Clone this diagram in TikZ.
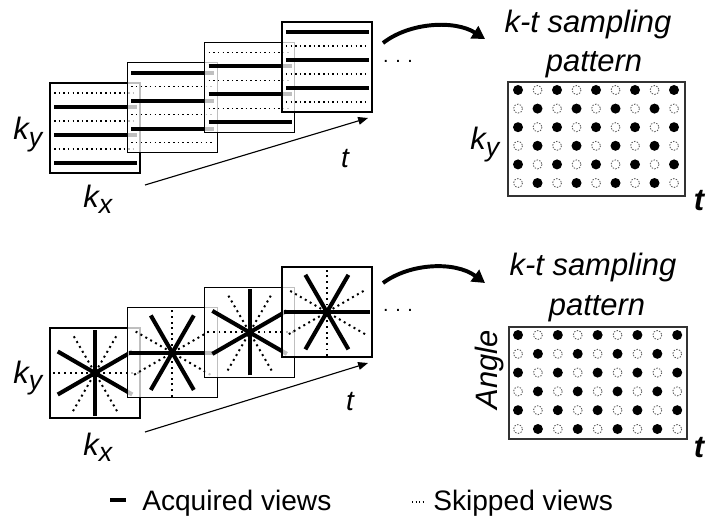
\documentclass[tikz,border=0pt]{standalone}
\usepackage{fontspec}
\setmainfont{Liberation Sans}
\usetikzlibrary{arrows.meta, calc}

\newcommand{\lowidx}[1]{\raisebox{-4.5pt}{\fontsize{19}{19}\selectfont #1}}

\tikzset{
  kframe/.style={draw=black, line width=0.9pt, fill=white, fill opacity=0.75},
  acq/.style={line width=2.9pt},
  skip/.style={line width=1.1pt, dash pattern=on 1.1pt off 2.2pt},
  skipray/.style={line width=1.4pt, dash pattern=on 1.4pt off 2.6pt},
  lbl/.style={font=\fontsize{22}{26}\selectfont\itshape, inner sep=0pt},
  leg/.style={font=\fontsize{20}{24}\selectfont, inner sep=0pt},
  hit/.style={fill=black},
  miss/.style={draw=black!65, line width=0.6pt, dash pattern=on 1pt off 1pt},
  tarrow/.style={line width=0.8pt, -{Triangle[length=7pt, width=5.5pt]}},
  bigarrow/.style={line width=2.8pt, -{Triangle[length=9pt, width=10pt]}},
}

\begin{document}
\begin{tikzpicture}[x=0.025cm, y=-0.025cm]
    \useasboundingbox (0,0) rectangle (708,525);

    % Cartesian frames
    \begin{scope}
        \foreach \i in {0,...,3} {
            \pgfmathsetmacro{\o}{14*mod(\i,2)}
            \begin{scope}[shift={({50+77.3*\i},{83-20.3*\i})}]
                \draw[kframe] (0,0) rectangle (90,90);
                \foreach \k in {0,1,2} {
                    \draw[acq] (4,{24-\o+28*\k}) -- (87,{24-\o+28*\k});
                    \draw[skip] (4,{10+\o+28*\k}) -- (87,{10+\o+28*\k});
                }
            \end{scope}
        }

        \node[lbl, anchor=base west] (ky1) at (13,140) {k\lowidx{y}};
        \node[lbl, anchor=base west] (kx1) at (83,207) {k\lowidx{x}};
        \node[lbl, font=\fontsize{20}{24}\selectfont\itshape, anchor=base] (t1) at (345,167) {t};

        \coordinate (t1s) at (145,185);
        \coordinate (t1e) at (368,118);
        \draw[tarrow] (t1s) -- (t1e);

        \node[font=\fontsize{14}{14}\selectfont, inner sep=0pt, anchor=base] (more1) at (398,63) {.\,\,.\,\,.};

        \coordinate (c1s) at (383,43);
        \coordinate (c1e) at (485,39);
        \draw[bigarrow] (c1s) .. controls (410,22) and (455,20) .. (c1e);

        \node[lbl, anchor=base] (title1) at (588,33) {k-t sampling};
        \node[lbl, anchor=base] (patt1) at (594,72) {pattern};

        \draw[line width=1pt, draw=black!80] (508,82) rectangle (685,196);
        \foreach \r in {0,...,5} {
            \foreach \c in {0,...,8} {
                \pgfmathtruncatemacro{\p}{mod(\r+\c,2)}
                \ifnum\p=0
                    \fill[hit] ({518+19.5*\c},{90+18.6*\r}) circle (5);
                \else
                    \draw[miss] ({518+19.5*\c},{90+18.6*\r}) circle (4.5);
                \fi
            }
        }
        \node[lbl, anchor=base west] (ky1r) at (470,150) {k\lowidx{y}};
        \node[lbl, font=\fontsize{22}{26}\selectfont\bfseries\itshape, anchor=base] (tt1) at (699,210) {t};
    \end{scope}

    % Radial frames
    \begin{scope}
        \foreach \i in {0,...,3} {
            \pgfmathsetmacro{\a}{30*(1-mod(\i,2))}
            \pgfmathsetmacro{\b}{30*mod(\i,2)}
            \begin{scope}[shift={({50+77.3*\i},{328-20.3*\i})}]
                \draw[kframe] (0,0) rectangle (90,90);
                \coordinate (ctr) at (45,45);
                \foreach \k in {0,1,2} {
                    \draw[skipray] ($(ctr)+({\b+60*\k}:44)$) -- ($(ctr)+({\b+60*\k+180}:44)$);
                }
                \foreach \k in {0,1,2} {
                    \draw[acq] ($(ctr)+({\a+60*\k}:43)$) -- ($(ctr)+({\a+60*\k+180}:43)$);
                }
            \end{scope}
        }

        \node[lbl, anchor=base west] (ky2) at (13,383) {k\lowidx{y}};
        \node[lbl, anchor=base west] (kx2) at (83,455) {k\lowidx{x}};
        \node[lbl, font=\fontsize{20}{24}\selectfont\itshape, anchor=base] (t2) at (350,410) {t};

        \coordinate (t2s) at (145,432);
        \coordinate (t2e) at (368,363);
        \draw[tarrow] (t2s) -- (t2e);

        \node[font=\fontsize{14}{14}\selectfont, inner sep=0pt, anchor=base] (more2) at (398,311) {.\,\,.\,\,.};

        \coordinate (c2s) at (383,283);
        \coordinate (c2e) at (485,283);
        \draw[bigarrow] (c2s) .. controls (410,263) and (455,261) .. (c2e);

        \node[lbl, anchor=base] (title2) at (593,275) {k-t sampling};
        \node[lbl, anchor=base] (patt2) at (597,315) {pattern};

        \draw[line width=1pt, draw=black!80] (509,327) rectangle (687,439);
        \foreach \r in {0,...,5} {
            \foreach \c in {0,...,8} {
                \pgfmathtruncatemacro{\p}{mod(\r+\c,2)}
                \ifnum\p=0
                    \fill[hit] ({518+19.9*\c},{335+18.8*\r}) circle (5);
                \else
                    \draw[miss] ({518+19.9*\c},{335+18.8*\r}) circle (4.5);
                \fi
            }
        }
        \node[lbl, rotate=90] (angle2) at (489,370) {Angle};
        \node[lbl, font=\fontsize{22}{26}\selectfont\bfseries\itshape, anchor=base] (tt2) at (699,457) {t};
    \end{scope}

    % legend
    \draw[acq] (110,500) -- (126,500);
    \node[leg, anchor=base west] (leg1) at (142,510) {Acquired views};
    \draw[line width=0.9pt, dash pattern=on 0.9pt off 1.6pt] (412,502) -- (425,502);
    \node[leg, anchor=base west] (leg2) at (433,510) {Skipped views};
\end{tikzpicture}
\end{document}
